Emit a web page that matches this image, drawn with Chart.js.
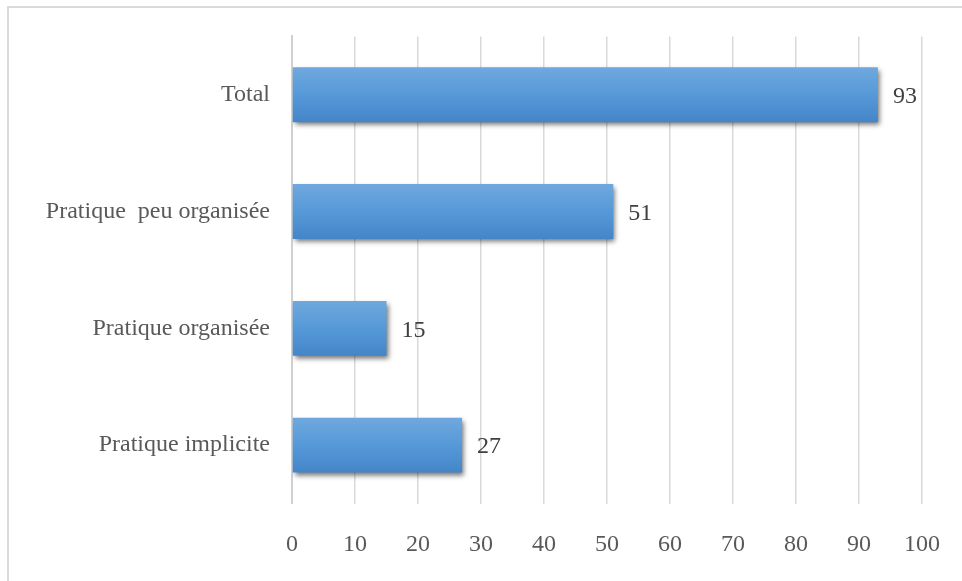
<!DOCTYPE html>
<html>
<head>
<meta charset="utf-8">
<script src="https://cdn.jsdelivr.net/npm/chart.js@4"></script>
<style>
  html, body { margin: 0; padding: 0; background: #fff; overflow: hidden; }
  #frame { position: absolute; left: 7px; top: 6px; width: 1000px; height: 700px;
           border-left: 2px solid #d9d9d9; border-top: 2px solid #d9d9d9; }
  #wrap { position: absolute; left: 0; top: 0; width: 962px; height: 581px; }
</style>
</head>
<body>
<div id="frame"></div>
<div id="wrap"><canvas id="chart"></canvas></div>
<script>
// données
const categories = ['Total', 'Pratique  peu organisée', 'Pratique organisée', 'Pratique implicite'];
const values = [93, 51, 15, 27];
const xTicks = [0, 10, 20, 30, 40, 50, 60, 70, 80, 90, 100];

const FONT = "'Liberation Serif', 'Times New Roman', serif";
const BAR_PCT = 0.47;

// dégradé vertical pour chaque barre
function barGradient(ctx) {
    const chart = ctx.chart;
    const y = chart.scales.y;
    if (!chart.chartArea || !y) return '#5b9bd5';
    const c = y.getPixelForValue(ctx.dataIndex);
    const h = (y.height / categories.length) * BAR_PCT;
    const g = chart.ctx.createLinearGradient(0, c - h / 2, 0, c + h / 2);
    g.addColorStop(0, '#6fa8de');
    g.addColorStop(0.5, '#5699d8');
    g.addColorStop(1, '#4485c8');
    return g;
}

// ombre sous les barres
const shadowPlugin = {
    id: 'barShadow',
    beforeDatasetDraw(chart) {
        const c = chart.ctx;
        c.save();
        c.shadowColor = 'rgba(0,0,0,0.55)';
        c.shadowBlur = 5;
        c.shadowOffsetX = 2;
        c.shadowOffsetY = 3;
    },
    afterDatasetDraw(chart) {
        chart.ctx.restore();
    }
};

// étiquettes de valeurs à droite des barres
const valueLabels = {
    id: 'valueLabels',
    afterDatasetsDraw(chart) {
        const c = chart.ctx;
        const meta = chart.getDatasetMeta(0);
        c.save();
        c.font = '24px ' + FONT;
        c.fillStyle = '#404040';
        c.textAlign = 'left';
        c.textBaseline = 'middle';
        meta.data.forEach((bar, i) => {
            c.fillText(values[i], bar.x + 15, bar.y + 2);
        });
        c.restore();
    }
};

new Chart(document.getElementById('chart'), {
    type: 'bar',
    data: {
        labels: categories,
        datasets: [{
            data: values,
            backgroundColor: barGradient,
            borderWidth: 0,
            barPercentage: BAR_PCT,
            categoryPercentage: 1
        }]
    },
    options: {
        indexAxis: 'y',
        responsive: true,
        maintainAspectRatio: false,
        animation: false,
        layout: { padding: { left: 0, right: 40, top: 36, bottom: 0 } },
        plugins: { legend: { display: false }, tooltip: { enabled: false } },
        scales: {
            x: {
                min: 0, max: 100,
                afterBuildTicks: s => { s.ticks = xTicks.map(v => ({ value: v })); },
                afterFit: s => { s.height = 77.5; s.paddingLeft = 0; s.paddingRight = 0; },
                grid: { color: '#d9d9d9', lineWidth: 1.5, drawTicks: false },
                border: { display: false },
                ticks: { padding: 27, color: '#595959', font: { family: FONT, size: 24 } }
            },
            y: {
                afterFit: s => { s.width = 292; },
                grid: { display: false, drawTicks: false },
                border: { display: true, color: '#d0d0d0', width: 2 },
                ticks: { padding: 22, color: '#595959', font: { family: FONT, size: 24 } }
            }
        }
    },
    plugins: [shadowPlugin, valueLabels]
});
</script>
</body>
</html>
